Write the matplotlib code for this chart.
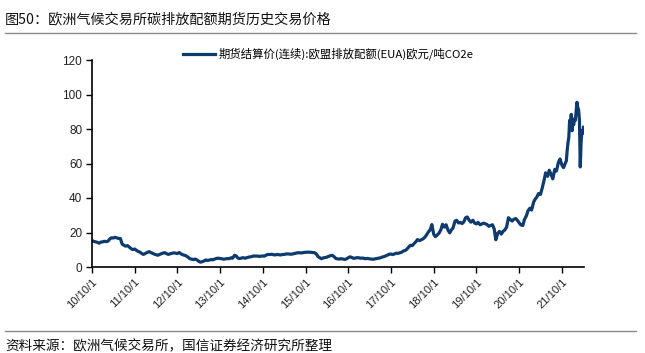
import matplotlib
matplotlib.use("Agg")
import matplotlib.pyplot as plt
import pandas as pd

plt.rcParams['font.family'] = ['Noto Sans CJK SC', 'DejaVu Sans']

# ---- data (semi-monthly readings: 1st and 15th of each month) ----
p2010 = [15.3, 14.9, 14.6, 14.3, 13.8, 14.4]  # Oct-Dec
p2011 = [14.6, 14.9, 14.7, 15.0, 16.2, 16.9, 16.8, 17.2, 16.9, 16.6, 16.5, 13.4,
         12.6, 12.1, 12.4, 11.6, 10.6, 10.1, 10.4, 9.7, 9.0, 8.6, 7.8, 7.3]
p2012 = [7.9, 8.4, 8.9, 8.4, 8.0, 7.5, 7.1, 6.8, 7.3, 7.7, 8.1, 8.3,
         7.7, 7.3, 7.7, 7.9, 8.2, 8.0, 7.8, 8.4, 7.6, 7.1, 6.8, 6.4]
p2013 = [5.6, 4.8, 4.5, 4.3, 4.6, 4.2, 3.3, 2.8, 3.1, 3.5, 4.1, 3.8,
         4.0, 4.3, 4.2, 4.6, 5.0, 5.1, 4.9, 4.8, 4.5, 4.7, 4.9, 4.8]
p2014 = [5.3, 5.1, 6.8, 6.4, 5.2, 4.9, 5.2, 5.4, 5.1, 5.4, 5.7, 5.9,
         6.1, 6.4, 6.3, 6.4, 6.1, 6.3, 6.4, 6.3, 7.0, 7.3, 7.2, 7.4]
p2015 = [7.1, 7.0, 7.3, 7.1, 7.0, 7.2, 7.3, 7.5, 7.6, 7.5, 7.4, 7.6,
         7.9, 8.1, 8.3, 8.2, 8.2, 8.4, 8.5, 8.6, 8.6, 8.5, 8.4, 8.3]
p2016 = [7.6, 6.1, 5.3, 4.8, 5.3, 5.5, 5.7, 6.2, 6.5, 6.8, 6.0, 5.0,
         4.7, 4.6, 4.8, 4.6, 4.4, 4.7, 5.4, 5.9, 5.5, 5.0, 5.2, 5.4]
p2017 = [5.3, 5.1, 5.2, 4.9, 4.8, 5.0, 4.7, 4.6, 4.5, 4.7, 4.9, 5.1,
         5.3, 5.7, 6.0, 6.4, 6.9, 7.4, 7.5, 7.2, 7.6, 8.0, 7.9, 8.2]
p2018 = [8.6, 9.3, 9.6, 10.5, 11.5, 12.6, 12.4, 13.5, 14.6, 15.9, 15.3, 15.7,
         16.3, 17.1, 18.6, 20.2, 21.6, 24.6, 19.0, 17.6, 18.6, 19.6, 21.6, 24.8]
p2019 = [23.1, 24.5, 21.2, 19.8, 21.5, 22.6, 26.6, 27.1, 25.5, 25.9, 25.2, 26.1,
         28.6, 29.0, 27.0, 26.0, 27.1, 25.5, 25.0, 25.9, 24.5, 24.9, 25.4, 25.1]
p2020 = [24.6, 23.6, 24.1, 24.5, 22.1, 15.8, 19.6, 20.6, 19.1, 20.6, 21.6, 23.1,
         28.6, 27.6, 26.6, 27.6, 28.1, 27.1, 25.6, 24.4, 24.1, 27.6, 29.6, 32.6]
p2021 = [34.1, 33.0, 37.6, 39.4, 40.6, 42.6, 42.1, 45.6, 50.1, 54.6, 52.6, 56.1,
         53.6, 51.1, 56.6, 55.6, 60.6, 62.6, 59.1, 57.6]  # Jan-Oct
# weekly readings from 2021-11-01 to 2022-04-04
p_late = [60.5, 61.5, 67.5, 72.0, 75.0, 85.0, 80.0, 88.5, 79.0, 84.0, 82.5, 86.0,
          85.0, 90.0, 95.5, 92.5, 91.0, 85.0, 58.0, 72.0, 79.0, 77.5, 81.0]

tick_labels = ['10/10/1', '11/10/1', '12/10/1', '13/10/1', '14/10/1', '15/10/1',
               '16/10/1', '17/10/1', '18/10/1', '19/10/1', '20/10/1', '21/10/1']
y_ticks = [0, 20, 40, 60, 80, 100, 120]

series_label = '期货结算价(连续):欧盟排放配额(EUA)欧元/吨CO2e'
title = '图50：欧洲气候交易所碳排放配额期货历史交易价格'
source = '资料来源：欧洲气候交易所，国信证券经济研究所整理'

# ---- assemble ----
semi_vals = p2010 + p2011 + p2012 + p2013 + p2014 + p2015 + p2016 + p2017 + \
    p2018 + p2019 + p2020 + p2021
semi_dates = pd.date_range('2010-10-01', periods=len(semi_vals), freq='SMS')
late_dates = pd.date_range('2021-11-01', periods=len(p_late), freq='7D')
dates = list(semi_dates) + list(late_dates)
vals = semi_vals + p_late

W, H = 645, 353
fig = plt.figure(figsize=(W / 100, H / 100), dpi=100)
ax = fig.add_axes([92 / W, 1 - 267 / H, (584 - 92) / W, (267 - 60) / H])

color = '#0D3B6E'
ax.plot(dates, vals, color=color, lw=2.3, label=series_label, solid_joinstyle='round')

ax.set_ylim(0, 120)
ax.set_yticks(y_ticks)
ax.set_xlim(pd.Timestamp('2010-10-01'), pd.Timestamp('2022-04-08'))
tick_dates = [pd.Timestamp(f'20{10 + i}-10-01') for i in range(len(tick_labels))]
ax.set_xticks(tick_dates)
ax.set_xticklabels(tick_labels, rotation=45, ha='right', rotation_mode='anchor',
                   fontsize=8, family=['Liberation Sans', 'DejaVu Sans'], color='#222222')
for t in ax.get_yticklabels():
    t.set_fontsize(8.5)
    t.set_family(['Liberation Sans', 'DejaVu Sans'])
    t.set_color('#222222')

for s in ['top', 'right']:
    ax.spines[s].set_visible(False)
for s in ['left', 'bottom']:
    ax.spines[s].set_linewidth(1.2)
    ax.spines[s].set_color('black')
ax.tick_params(axis='both', direction='out', length=4, width=1, pad=3)

fig.legend(loc='center left', bbox_to_anchor=(183 / W, 1 - 54 / H), frameon=False,
           fontsize=8.2, handlelength=2.8, handletextpad=0.3, borderaxespad=0,
           borderpad=0)

fig.text(5 / W, 1 - 19 / H, title, fontsize=10.2, va='center', ha='left', color='#111111')
fig.add_artist(plt.Line2D([5 / W, 636 / W], [1 - 33 / H, 1 - 33 / H],
                          color='#8a8a8a', lw=1.0))
fig.add_artist(plt.Line2D([5 / W, 636 / W], [1 - 331 / H, 1 - 331 / H],
                          color='#8a8a8a', lw=1.0))
fig.text(5 / W, 1 - 345 / H, source, fontsize=9.8, va='center', ha='left', color='#111111')

fig.savefig('out.png', dpi=100)
